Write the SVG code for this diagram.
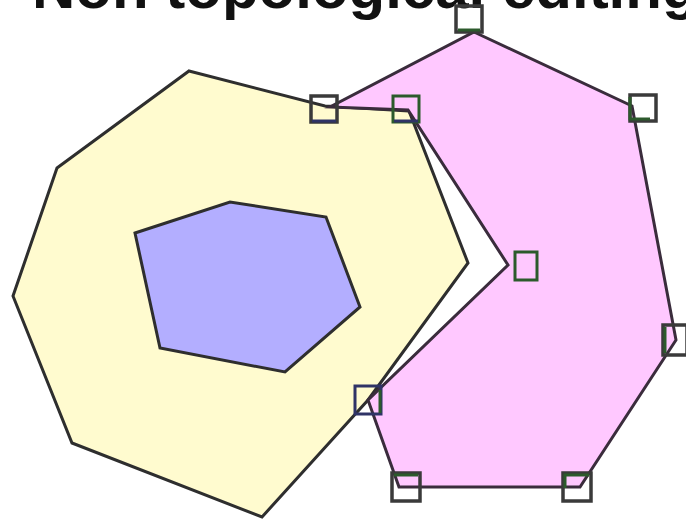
<svg xmlns="http://www.w3.org/2000/svg" width="686" height="519" viewBox="0 0 686 519">
<style>
.poly{stroke:#2e2e2e;stroke-width:3;stroke-linejoin:miter}
.pk{stroke:#3a2c3c}
.h{fill:none;stroke:#3a3a3a;stroke-width:3.5}
.g{fill:none;stroke:#2c5a2c;stroke-width:3}
.n{fill:none;stroke:#2f3366;stroke-width:3}
.title{font-family:"Liberation Sans",Arial,sans-serif;font-weight:bold;font-size:60px;fill:#111}
</style>
<rect width="686" height="519" fill="#ffffff"/>
<text class="title" x="32" y="8">Non topological editing</text>
<g id="yellow">
<polygon class="poly" fill="#FFFBCF" points="189,71 325,106 409,111 468,263 368,400 262,517 72,443 13,296 57,168"/>
</g>
<g id="blue">
<polygon class="poly" fill="#B3AEFF" points="135,233 230,202 326,217 360,307 285,372 160,348"/>
</g>
<g id="pink">
<polygon class="poly pk" fill="#FFC8FF" points="474,32 632,106 676,340 580,487 399,487 368,400 508,265 408,110 330,107"/>
</g>
<g id="handles">
<g id="h1"><rect class="h" x="456" y="6" width="26" height="26"/><path class="g" d="M458,30 H480"/></g>
<g id="h2"><rect class="h" x="311" y="96" width="26" height="26"/><path class="n" d="M312,121 H336"/></g>
<g id="h3"><rect class="g" x="393" y="96" width="26" height="26"/><path class="n" d="M394,121 H418"/></g>
<g id="h4"><rect class="h" x="630" y="95" width="26" height="26"/><path class="g" d="M630,97 V119 H650"/></g>
<g id="h5"><rect class="g" x="515" y="252" width="22" height="28"/></g>
<g id="h6"><rect class="h" x="663" y="325" width="24" height="30"/><path class="g" d="M665,327 V353"/></g>
<g id="h7"><rect class="n" x="355" y="386" width="26" height="28"/><path class="g" d="M380,390 V413"/></g>
<g id="h8"><rect class="h" x="392" y="473" width="28" height="28"/><path class="g" d="M394,475 H418"/></g>
<g id="h9"><rect class="h" x="563" y="473" width="28" height="28"/><path class="g" d="M565,488 V475 H589"/></g>
</g>
</svg>
